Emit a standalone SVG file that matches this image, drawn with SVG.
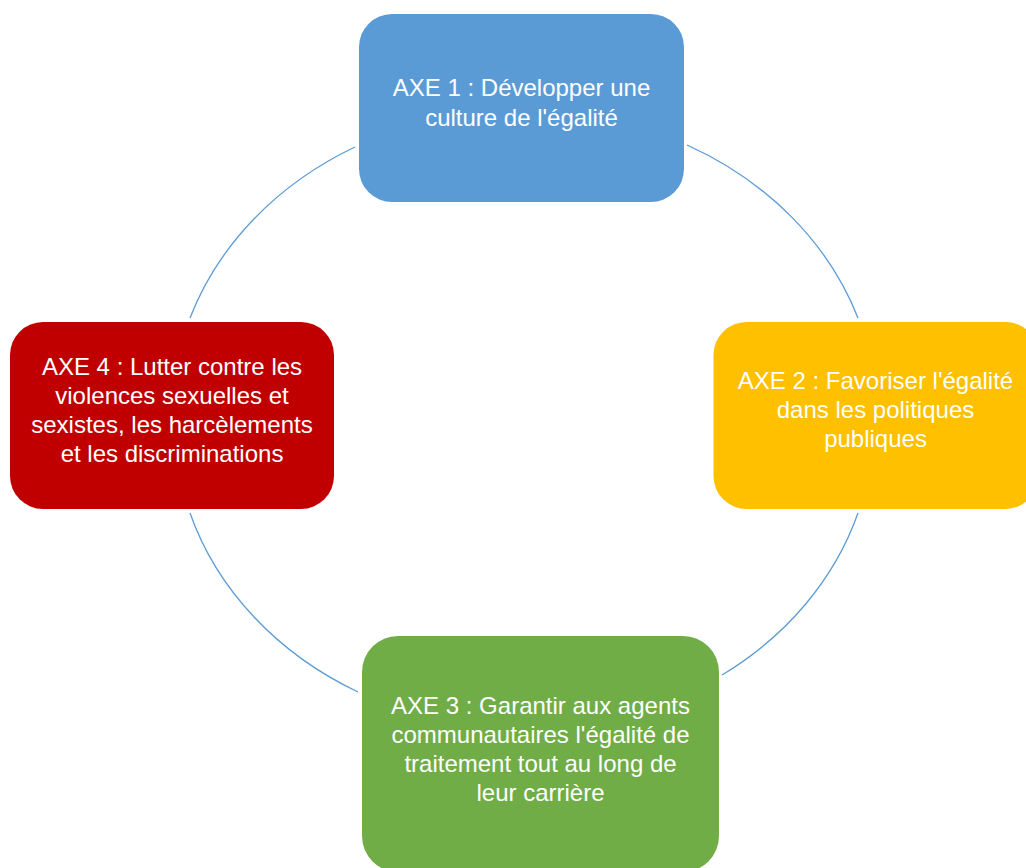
<svg xmlns="http://www.w3.org/2000/svg" width="1026" height="868" viewBox="0 0 1026 868">
<style>
.arc{fill:none;stroke:#5B9BD5;stroke-width:1.3}
.lbl{font-family:"Liberation Sans",Arial,sans-serif;font-size:24px;fill:#FFFFFF;text-anchor:middle}
</style>
<rect width="1026" height="868" fill="#FFFFFF"/>
<g id="connectors">
<path class="arc" d="M355,147 A352,306 0 0 0 190,318"/>
<path class="arc" d="M687,145 A352,306 0 0 1 858,318"/>
<path class="arc" d="M858,513 A352,306 0 0 1 722,675"/>
<path class="arc" d="M358,692 A352,306 0 0 1 190,513"/>
</g>
<g id="axe1">
<rect x="359" y="14" width="325" height="188" rx="33" ry="33" fill="#5B9BD5"/>
<text class="lbl" x="521.5" y="96">AXE 1 : Développer une</text>
<text class="lbl" x="521.5" y="125.5">culture de l'égalité</text>
</g>
<g id="axe2">
<rect x="713.5" y="322" width="325" height="187" rx="33" ry="33" fill="#FFC000"/>
<text class="lbl" x="875.5" y="389">AXE 2 : Favoriser l'égalité</text>
<text class="lbl" x="875.5" y="418">dans les politiques</text>
<text class="lbl" x="875.5" y="447">publiques</text>
</g>
<g id="axe3">
<rect x="362" y="636" width="357" height="236" rx="36" ry="36" fill="#70AD47"/>
<text class="lbl" x="540.5" y="714">AXE 3 : Garantir aux agents</text>
<text class="lbl" x="540.5" y="743">communautaires l'égalité de</text>
<text class="lbl" x="540.5" y="772">traitement tout au long de</text>
<text class="lbl" x="540.5" y="801">leur carrière</text>
</g>
<g id="axe4">
<rect x="10" y="322" width="324" height="187" rx="33" ry="33" fill="#C00000"/>
<text class="lbl" x="172" y="375">AXE 4 : Lutter contre les</text>
<text class="lbl" x="172" y="404">violences sexuelles et</text>
<text class="lbl" x="172" y="433">sexistes, les harcèlements</text>
<text class="lbl" x="172" y="462">et les discriminations</text>
</g>
</svg>
